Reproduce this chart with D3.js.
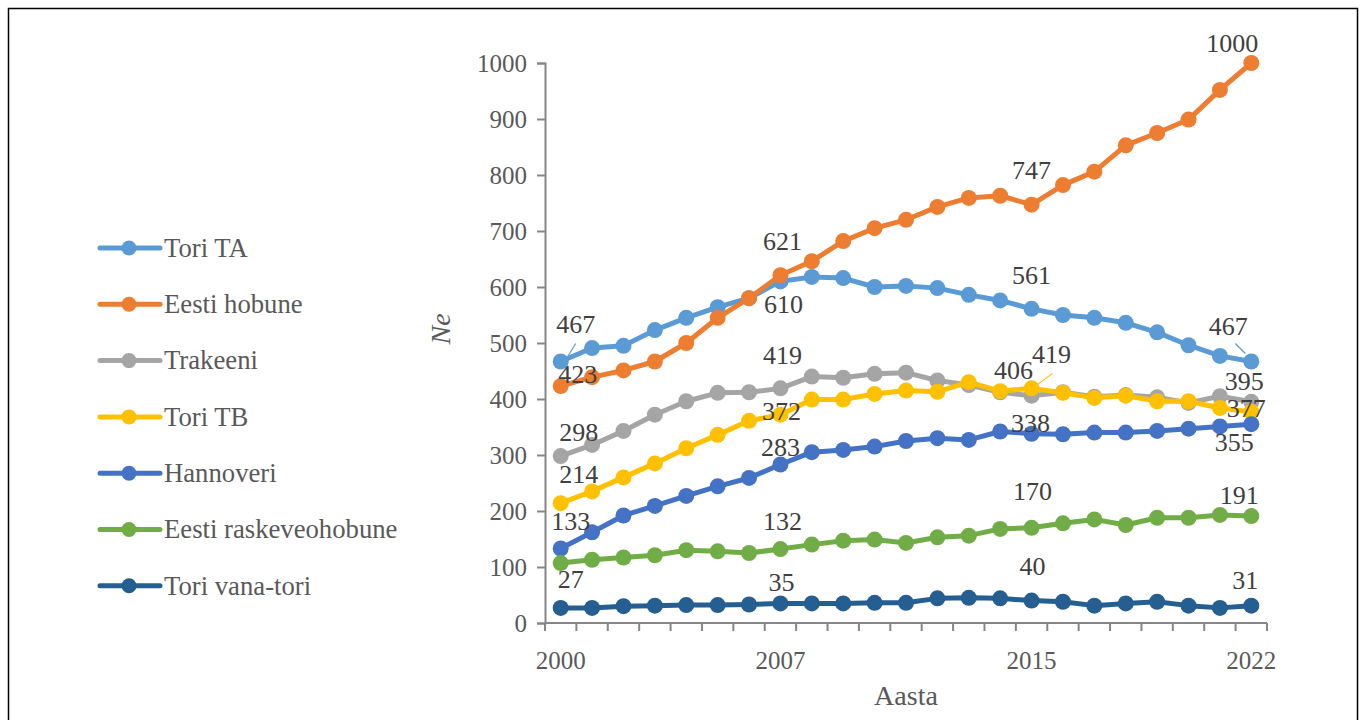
<!DOCTYPE html>
<html>
<head>
<meta charset="utf-8">
<script src="https://cdn.jsdelivr.net/npm/d3@7"></script>
<style>
  html, body { margin: 0; padding: 0; background: #fff; }
  svg { display: block; }
</style>
</head>
<body>
<svg id="chart" width="1360" height="720"></svg>
<script>
// ---- Data ----
const years = d3.range(2000, 2023);
const seriesNames = ["Tori TA", "Eesti hobune", "Trakeeni", "Tori TB", "Hannoveri", "Eesti raskeveohobune", "Tori vana-tori"];
const toriTA      = [467, 491, 495, 523, 545, 564, 580, 610, 618, 616, 600, 602, 598, 586, 576, 561, 550, 545, 536, 519, 496, 477, 467];
const eestiHobune = [423, 439, 451, 467, 500, 545, 580, 621, 646, 682, 705, 720, 743, 759, 763, 747, 782, 806, 853, 875, 899, 952, 1000];
const trakeeni    = [298, 318, 343, 372, 396, 411, 412, 419, 440, 438, 445, 447, 433, 425, 412, 406, 412, 404, 407, 403, 393, 405, 395];
const toriTB      = [214, 235, 260, 285, 312, 336, 361, 372, 399, 399, 409, 415, 413, 430, 414, 419, 411, 402, 406, 396, 396, 384, 377];
const hannoveri   = [133, 162, 192, 209, 227, 244, 259, 283, 305, 309, 315, 325, 330, 327, 342, 338, 337, 340, 340, 343, 347, 351, 355];
const raske       = [107, 113, 117, 121, 130, 128, 125, 132, 140, 147, 149, 143, 153, 156, 168, 170, 178, 185, 175, 188, 188, 193, 191];
const vanaTori    = [27, 27, 30, 31, 32, 32, 33, 35, 35, 35, 36, 36, 44, 45, 44, 40, 38, 31, 35, 38, 31, 27, 31];
const seriesValues = [toriTA, eestiHobune, trakeeni, toriTB, hannoveri, raske, vanaTori];
const xTickLabels = [2000, 2007, 2015, 2022];
const yTicks = d3.range(0, 1001, 100);
const labelYears = [2000, 2007, 2015, 2022];

// ---- Styles / layout (not data) ----
const FONT = "'Liberation Serif', 'Times New Roman', Times, serif";
const colors = ["#5B9BD5", "#ED7D31", "#A5A5A5", "#FFC000", "#4472C4", "#70AD47", "#255E91"];
// label offsets [dx, dy] of label centre relative to point, per series per labelYear (null = hidden)
const labelOffsets = [
  [[15, -38], [3, 22], [0, -34], [-23, -36]],
  [[17, -12], [2, -34], [0, -35], [-19, -20]],
  [[18, -24], [2, -33], [-18, -26], [-7, -21]],
  [[18, -29], [1, -4], [20, -34], [-5, -4]],
  [[10, -28], [0, -18], [-1, -11], [-17, 18]],
  [null, [2, -28], [1, -37], [-12, -21]],
  [[10, -29], [1, -22], [1, -35], [-6, -26]]
];
// leader lines: [seriesIdx, labelYearIdx, x1off, y1off, x2off, y2off] relative to point
const leaders = [
  [0, 0, 15, -18, 7, -5],
  [0, 3, -16, -18, -6, -8],
  [3, 2, 21, -15, 2, -1]
];

const svg = d3.select("#chart").style("font-family", FONT);
const plotL = 545, plotR = 1267, plotT = 63, plotB = 623;

const x = d3.scalePoint().domain(years).range([plotL, plotR]).padding(0.5);
const y = d3.scaleLinear().domain([0, 1000]).range([plotB, plotT]);
const step = x.step();

// outer border
svg.append("rect").attr("x", 8.5).attr("y", 8.5).attr("width", 1349).attr("height", 730)
  .attr("fill", "none").attr("stroke", "#000").attr("stroke-width", 1.5);

// Y axis
const yAxis = d3.axisLeft(y).tickValues(yTicks).tickSize(8).tickPadding(10).tickFormat(d3.format("d"));
const gy = svg.append("g").attr("transform", `translate(${plotL},0)`).call(yAxis);
gy.attr("font-family", null).attr("font-size", null);
gy.select(".domain").attr("stroke", "#868686").attr("stroke-width", 2);
gy.selectAll(".tick line").attr("stroke", "#868686").attr("stroke-width", 2);
gy.selectAll(".tick text").attr("fill", "#595959").style("font-size", "25px")
  .style("font-family", FONT).attr("dy", "0.34em");

// X axis (category boundaries as ticks)
const gx = svg.append("g");
gx.append("line").attr("x1", plotL).attr("x2", plotR).attr("y1", plotB).attr("y2", plotB)
  .attr("stroke", "#868686").attr("stroke-width", 2);
const bounds = d3.range(0, years.length + 1).map(i => x(years[0]) - step / 2 + i * step);
gx.selectAll("line.tk").data(bounds).join("line").attr("class", "tk")
  .attr("x1", d => d).attr("x2", d => d).attr("y1", plotB).attr("y2", plotB + 8)
  .attr("stroke", "#868686").attr("stroke-width", 2);
gx.selectAll("text").data(xTickLabels).join("text")
  .attr("x", d => x(d)).attr("y", 669).attr("text-anchor", "middle")
  .attr("fill", "#595959").style("font-family", FONT).style("font-size", "25px").text(d => d);

// Axis titles
svg.append("text").attr("x", 906).attr("y", 705).attr("text-anchor", "middle")
  .attr("fill", "#595959").style("font-family", FONT).style("font-size", "28px").text("Aasta");
svg.append("text").attr("transform", "translate(450,329) rotate(-90)").attr("text-anchor", "middle")
  .attr("fill", "#595959").style("font-family", FONT).style("font-size", "28px").style("font-style", "italic").text("Ne");

// Series
const line = d3.line().x((d, i) => x(years[i])).y(d => y(d));
seriesValues.forEach((vals, si) => {
  const g = svg.append("g");
  g.append("path").datum(vals).attr("d", line).attr("fill", "none")
    .attr("stroke", colors[si]).attr("stroke-width", 5).attr("stroke-linejoin", "round");
  g.selectAll("circle").data(vals).join("circle")
    .attr("cx", (d, i) => x(years[i])).attr("cy", d => y(d)).attr("r", 8)
    .attr("fill", colors[si]);
});

// Leader lines
leaders.forEach(([si, li, x1, y1, x2, y2]) => {
  const yr = labelYears[li];
  const px = x(yr), py = y(seriesValues[si][years.indexOf(yr)]);
  svg.append("line").attr("x1", px + x1).attr("y1", py + y1).attr("x2", px + x2).attr("y2", py + y2)
    .attr("stroke", colors[si]).attr("stroke-width", 1.2);
});

// Data labels
seriesValues.forEach((vals, si) => {
  labelYears.forEach((yr, li) => {
    const off = labelOffsets[si][li];
    if (!off) return;
    const v = vals[years.indexOf(yr)];
    svg.append("text").attr("x", x(yr) + off[0]).attr("y", y(v) + off[1])
      .attr("dy", "0.35em").attr("text-anchor", "middle")
      .attr("fill", "#404040").style("font-family", FONT).style("font-size", "26px").text(v);
  });
});

// Legend
const legendY0 = 248, legendStep = 56.3;
seriesNames.forEach((name, si) => {
  const ly = legendY0 + si * legendStep;
  const g = svg.append("g");
  g.append("line").attr("x1", 100).attr("x2", 160).attr("y1", ly).attr("y2", ly)
    .attr("stroke", colors[si]).attr("stroke-width", 5).attr("stroke-linecap", "round");
  g.append("circle").attr("cx", 129).attr("cy", ly).attr("r", 7.5).attr("fill", colors[si]);
  g.append("text").attr("x", 164).attr("y", ly).attr("dy", "0.33em")
    .attr("fill", "#595959").style("font-family", FONT).style("font-size", "26.7px").text(name);
});
</script>
</body>
</html>
